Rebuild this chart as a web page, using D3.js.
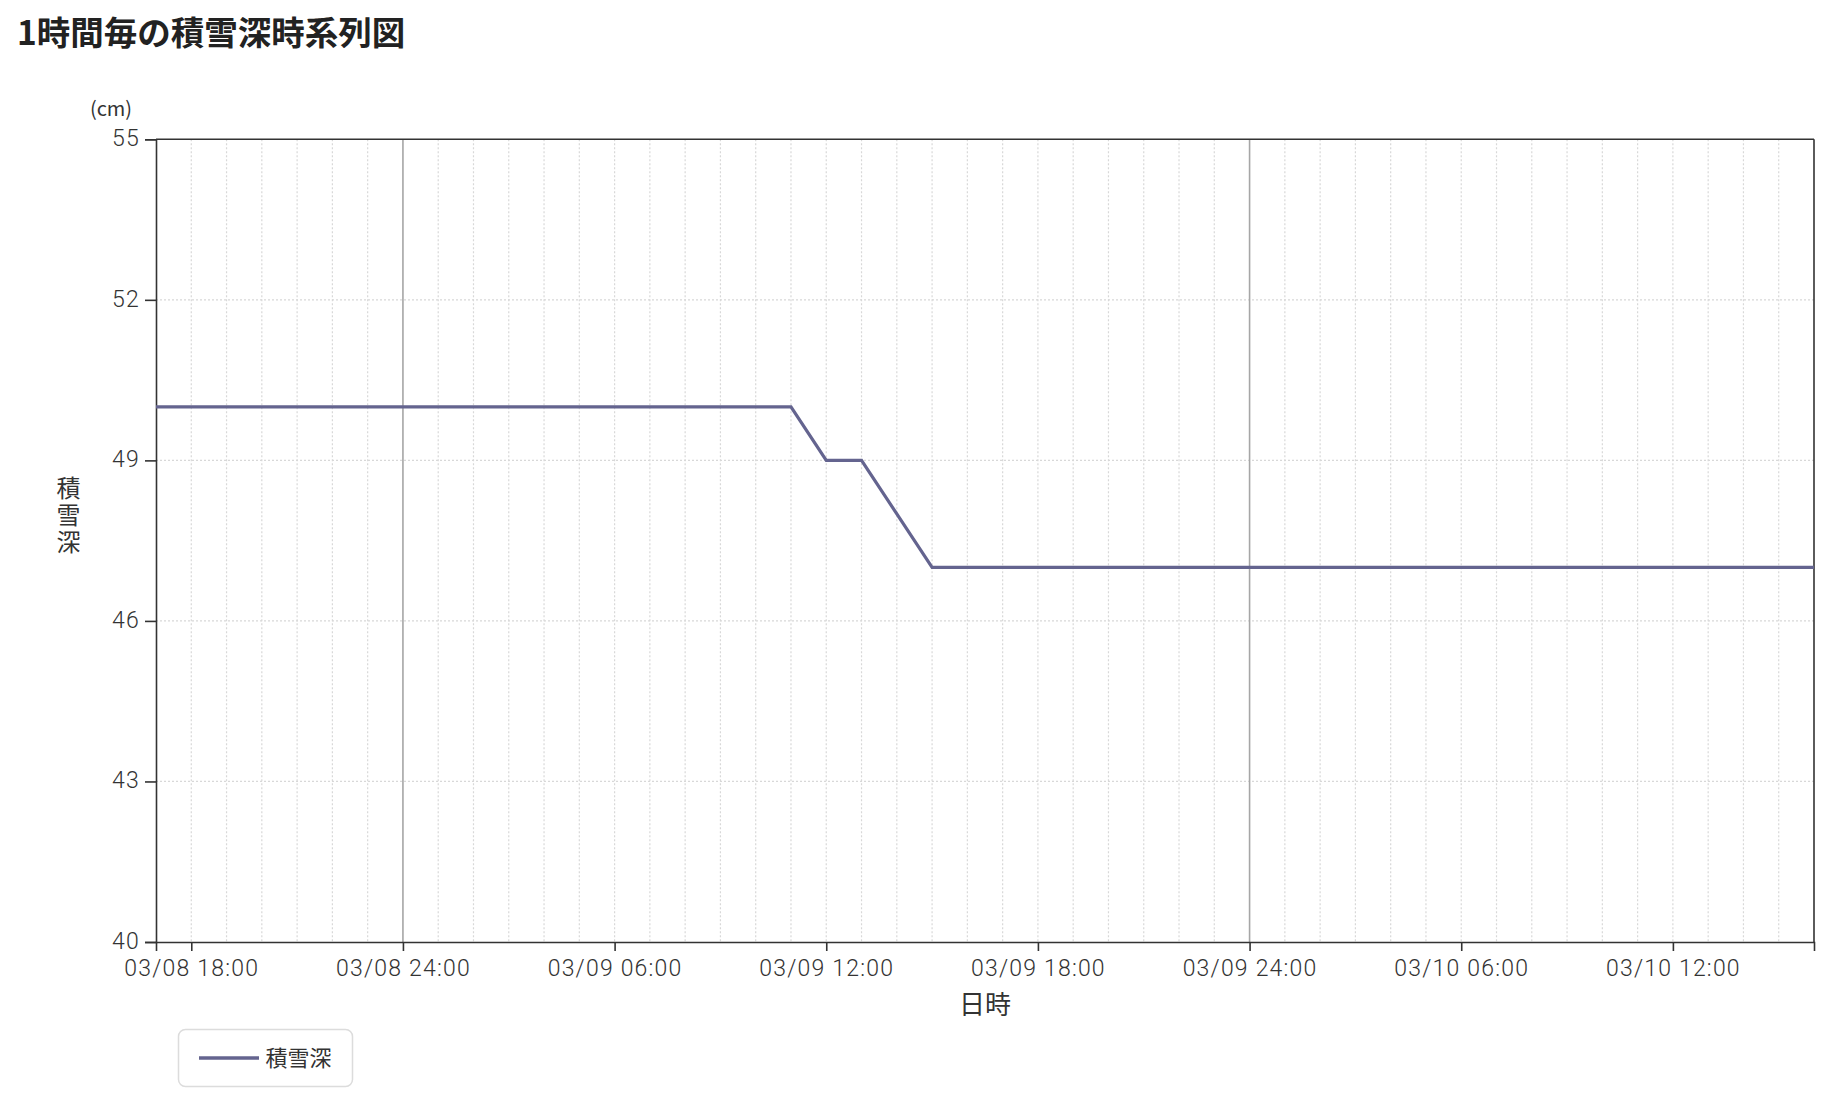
<!DOCTYPE html>
<html lang="ja">
<head>
<meta charset="utf-8">
<script src="https://cdn.jsdelivr.net/npm/d3@7/dist/d3.min.js"></script>
<style>
  html, body { margin: 0; padding: 0; background: #fff; }
  svg { display: block; font-family: "Noto Sans CJK JP", "Noto Sans", sans-serif; }
</style>
</head>
<body>
<svg id="chart" width="1839" height="1101"></svg>
<script>
// ---- data ----
const times = [
  "2024-03-08T17:00","2024-03-08T18:00","2024-03-08T19:00","2024-03-08T20:00","2024-03-08T21:00",
  "2024-03-08T22:00","2024-03-08T23:00","2024-03-09T00:00","2024-03-09T01:00","2024-03-09T02:00",
  "2024-03-09T03:00","2024-03-09T04:00","2024-03-09T05:00","2024-03-09T06:00","2024-03-09T07:00",
  "2024-03-09T08:00","2024-03-09T09:00","2024-03-09T10:00","2024-03-09T11:00","2024-03-09T12:00",
  "2024-03-09T13:00","2024-03-09T14:00","2024-03-09T15:00","2024-03-09T16:00","2024-03-09T17:00",
  "2024-03-09T18:00","2024-03-09T19:00","2024-03-09T20:00","2024-03-09T21:00","2024-03-09T22:00",
  "2024-03-09T23:00","2024-03-10T00:00","2024-03-10T01:00","2024-03-10T02:00","2024-03-10T03:00",
  "2024-03-10T04:00","2024-03-10T05:00","2024-03-10T06:00","2024-03-10T07:00","2024-03-10T08:00",
  "2024-03-10T09:00","2024-03-10T10:00","2024-03-10T11:00","2024-03-10T12:00","2024-03-10T13:00",
  "2024-03-10T14:00","2024-03-10T15:00","2024-03-10T16:00"
];
const snowDepth = [
  50,50,50,50,50,
  50,50,50,50,50,
  50,50,50,50,50,
  50,50,50,50,49,
  49,48,47,47,47,
  47,47,47,47,47,
  47,47,47,47,47,
  47,47,47,47,47,
  47,47,47,47,47,
  47,47,47
];
const xTickTimes = [
  "2024-03-08T18:00","2024-03-09T00:00","2024-03-09T06:00","2024-03-09T12:00",
  "2024-03-09T18:00","2024-03-10T00:00","2024-03-10T06:00","2024-03-10T12:00"
];
const yTicks = [40, 43, 46, 49, 52, 55];
const yDomain = [40, 55];
const chartTitle = "1時間毎の積雪深時系列図";
const seriesName = "積雪深";
const xTitle = "日時";
const yUnit = "(cm)";

// ---- layout ----
(function () {
const svg = d3.select("#chart");
const pL = 156, pR = 1814, pT = 139.3, pB = 942;
const lineColor = "#64648f";
const textColor = "#333";
const tickFont = "Roboto, 'Noto Sans', sans-serif";

const parse = d3.timeParse("%Y-%m-%dT%H:%M");
const data = times.map((t, i) => ({ t: parse(t), v: snowDepth[i] }));

const x = d3.scaleTime()
  .domain([parse(times[0]), parse(times[times.length - 1])])
  .range([pL, pR]);
const y = d3.scaleLinear().domain(yDomain).range([pB, pT]);

function fmt(d) {
  if (d.getHours() === 0) {
    const prev = new Date(d.getTime() - 3600 * 1000);
    return d3.timeFormat("%m/%d")(prev) + " 24:00";
  }
  return d3.timeFormat("%m/%d %H:%M")(d);
}

// title
svg.append("text")
  .attr("x", 17).attr("y", 44.5)
  .attr("font-size", 33.5).attr("font-weight", 700)
  .attr("fill", "#222")
  .text(chartTitle);

// grid: horizontal dotted
const grid = svg.append("g");
grid.selectAll("line.h").data(yTicks.filter(v => v !== yDomain[0] && v !== yDomain[1]))
  .join("line")
  .attr("x1", pL).attr("x2", pR)
  .attr("y1", d => y(d)).attr("y2", d => y(d))
  .attr("stroke", "#d8d8d8").attr("stroke-width", 1.2)
  .attr("stroke-dasharray", "2,2");

// grid: vertical hourly
const hourTimes = data.map(d => d.t).filter((t, i) => i > 0 && i < data.length - 1);
grid.selectAll("line.v").data(hourTimes.filter(t => t.getHours() !== 0))
  .join("line")
  .attr("x1", d => x(d)).attr("x2", d => x(d))
  .attr("y1", pT).attr("y2", pB)
  .attr("stroke", "#d8d8d8").attr("stroke-width", 1.2)
  .attr("stroke-dasharray", "2,2");
grid.selectAll("line.m").data(hourTimes.filter(t => t.getHours() === 0))
  .join("line")
  .attr("x1", d => x(d)).attr("x2", d => x(d))
  .attr("y1", pT).attr("y2", pB)
  .attr("stroke", "#a6a6a6").attr("stroke-width", 1.6);

// frame top/right
svg.append("line").attr("x1", pL).attr("x2", pR).attr("y1", pT).attr("y2", pT)
  .attr("stroke", textColor).attr("stroke-width", 1.6);
svg.append("line").attr("x1", pR).attr("x2", pR).attr("y1", pT).attr("y2", pB)
  .attr("stroke", textColor).attr("stroke-width", 1.6);

// axes
const xAxis = d3.axisBottom(x)
  .tickValues(xTickTimes.map(parse))
  .tickFormat(fmt)
  .tickSize(9).tickPadding(8.5);
const gx = svg.append("g").attr("transform", `translate(0,${pB})`).call(xAxis);
gx.selectAll("text").attr("font-size", 23).attr("fill", textColor)
  .attr("font-weight", 300)
  .attr("letter-spacing", "1.2px")
  .attr("font-family", tickFont);
gx.selectAll("line,path").attr("stroke", textColor).attr("stroke-width", 1.6);

const yAxis = d3.axisLeft(y).tickValues(yTicks).tickSize(11).tickPadding(5);
const gy = svg.append("g").attr("transform", `translate(${pL},0)`).call(yAxis);
gy.selectAll("text").attr("font-size", 23).attr("fill", textColor)
  .attr("font-weight", 300)
  .attr("letter-spacing", "1.2px")
  .attr("dy", "0.28em")
  .attr("font-family", tickFont);
gy.selectAll("line,path").attr("stroke", textColor).attr("stroke-width", 1.6);

// line
const line = d3.line().x(d => x(d.t)).y(d => y(d.v));
svg.append("path").datum(data)
  .attr("d", line)
  .attr("fill", "none")
  .attr("stroke", lineColor)
  .attr("stroke-width", 3.2)
  .attr("stroke-linejoin", "miter");

// axis titles
svg.append("text")
  .attr("x", (pL + pR) / 2).attr("y", 1014)
  .attr("text-anchor", "middle").attr("font-size", 26).attr("fill", textColor)
  .text(xTitle);
svg.append("text")
  .attr("x", 68.5).attr("y", 516.5)
  .attr("text-anchor", "middle")
  .attr("writing-mode", "vertical-rl")
  .style("text-orientation", "upright")
  .attr("letter-spacing", "3px")
  .attr("font-size", 24).attr("fill", textColor)
  .text(seriesName);
svg.append("text")
  .attr("x", 111).attr("y", 116)
  .attr("text-anchor", "middle").attr("font-size", 20).attr("fill", textColor)
  .text(yUnit);

// legend
const lg = svg.append("g");
lg.append("rect")
  .attr("x", 178.5).attr("y", 1029.5).attr("width", 174).attr("height", 57)
  .attr("rx", 7).attr("ry", 7)
  .attr("fill", "#fff").attr("stroke", "#dcdcdc").attr("stroke-width", 1.5);
lg.append("line")
  .attr("x1", 199).attr("x2", 259).attr("y1", 1058).attr("y2", 1058)
  .attr("stroke", lineColor).attr("stroke-width", 3.5);
lg.append("text")
  .attr("x", 265.5).attr("y", 1066).attr("font-size", 22).attr("fill", textColor)
  .text(seriesName);
})();
</script>
</body>
</html>
